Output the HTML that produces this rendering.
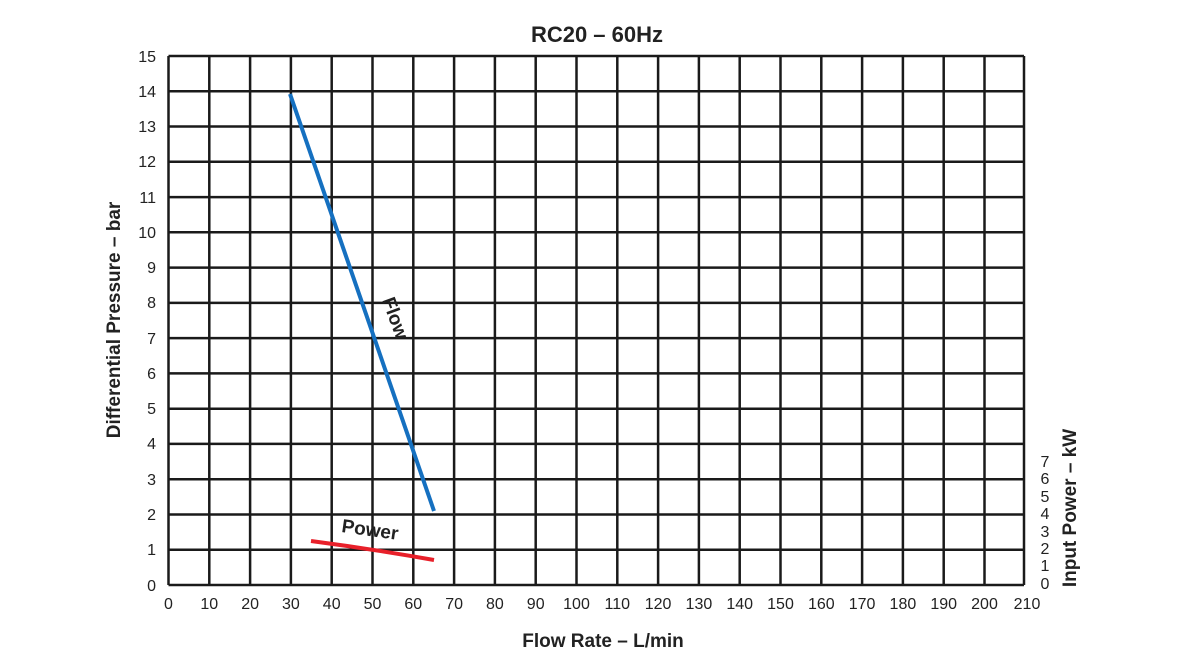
<!DOCTYPE html>
<html><head><meta charset="utf-8"><style>body{margin:0;background:#fff}</style></head><body>
<svg width="1200" height="660" xmlns="http://www.w3.org/2000/svg" font-family="Liberation Sans, sans-serif">
<rect width="1200" height="660" fill="#fff"/>
<text x="597" y="42" font-size="22" font-weight="bold" text-anchor="middle" fill="#222">RC20 – 60Hz</text>
<g stroke="#1a1a1a" stroke-width="2.5" fill="none">
<path d="M168.5 56V585M209.3 56V585M250.1 56V585M290.9 56V585M331.7 56V585M372.5 56V585M413.3 56V585M454.1 56V585M494.9 56V585M535.7 56V585M576.5 56V585M617.3 56V585M658.1 56V585M698.9 56V585M739.7 56V585M780.5 56V585M821.3 56V585M862.1 56V585M902.9 56V585M943.7 56V585M984.5 56V585M1024 56V585"/>
<path d="M168.5 56H1024M168.5 91.3H1024M168.5 126.5H1024M168.5 161.8H1024M168.5 197.1H1024M168.5 232.3H1024M168.5 267.6H1024M168.5 302.9H1024M168.5 338.1H1024M168.5 373.4H1024M168.5 408.7H1024M168.5 443.9H1024M168.5 479.2H1024M168.5 514.5H1024M168.5 549.7H1024M168.5 585H1024"/>
</g>
<g font-size="16" fill="#222" text-anchor="end">
<text x="156" y="62">15</text><text x="156" y="97">14</text><text x="156" y="132">13</text><text x="156" y="167">12</text><text x="156" y="203">11</text><text x="156" y="238">10</text><text x="156" y="273">9</text><text x="156" y="308">8</text><text x="156" y="344">7</text><text x="156" y="379">6</text><text x="156" y="414">5</text><text x="156" y="449">4</text><text x="156" y="485">3</text><text x="156" y="520">2</text><text x="156" y="555">1</text><text x="156" y="591">0</text>
</g>
<g font-size="16" fill="#222" text-anchor="middle">
<text x="168.5" y="609">0</text><text x="209.3" y="609">10</text><text x="250.1" y="609">20</text><text x="290.9" y="609">30</text><text x="331.7" y="609">40</text><text x="372.5" y="609">50</text><text x="413.3" y="609">60</text><text x="454.1" y="609">70</text><text x="494.9" y="609">80</text><text x="535.7" y="609">90</text><text x="576.5" y="609">100</text><text x="617.3" y="609">110</text><text x="658.1" y="609">120</text><text x="698.9" y="609">130</text><text x="739.7" y="609">140</text><text x="780.5" y="609">150</text><text x="821.3" y="609">160</text><text x="862.1" y="609">170</text><text x="902.9" y="609">180</text><text x="943.7" y="609">190</text><text x="984.5" y="609">200</text><text x="1027" y="609">210</text>
</g>
<g font-size="16" fill="#222" text-anchor="middle">
<text x="1045" y="467">7</text><text x="1045" y="484">6</text><text x="1045" y="502">5</text><text x="1045" y="519">4</text><text x="1045" y="537">3</text><text x="1045" y="554">2</text><text x="1045" y="571">1</text><text x="1045" y="589">0</text>
</g>
<text x="603" y="647" font-size="19" font-weight="bold" text-anchor="middle" fill="#222">Flow Rate – L/min</text>
<text transform="translate(120,320) rotate(-90)" font-size="19" font-weight="bold" text-anchor="middle" fill="#222">Differential Pressure – bar</text>
<text transform="translate(1076,508) rotate(-90)" font-size="19" font-weight="bold" text-anchor="middle" fill="#222">Input Power – kW</text>
<line x1="290" y1="94" x2="434" y2="511" stroke="#1570c0" stroke-width="4"/>
<path d="M311 541 Q372 549 434 560" stroke="#e8202a" stroke-width="4" fill="none"/>
<text transform="translate(382,300) rotate(70)" font-size="19" font-weight="bold" fill="#222">Flow</text>
<text transform="translate(341,532) rotate(8)" font-size="19" font-weight="bold" fill="#222">Power</text>
</svg>
</body></html>
